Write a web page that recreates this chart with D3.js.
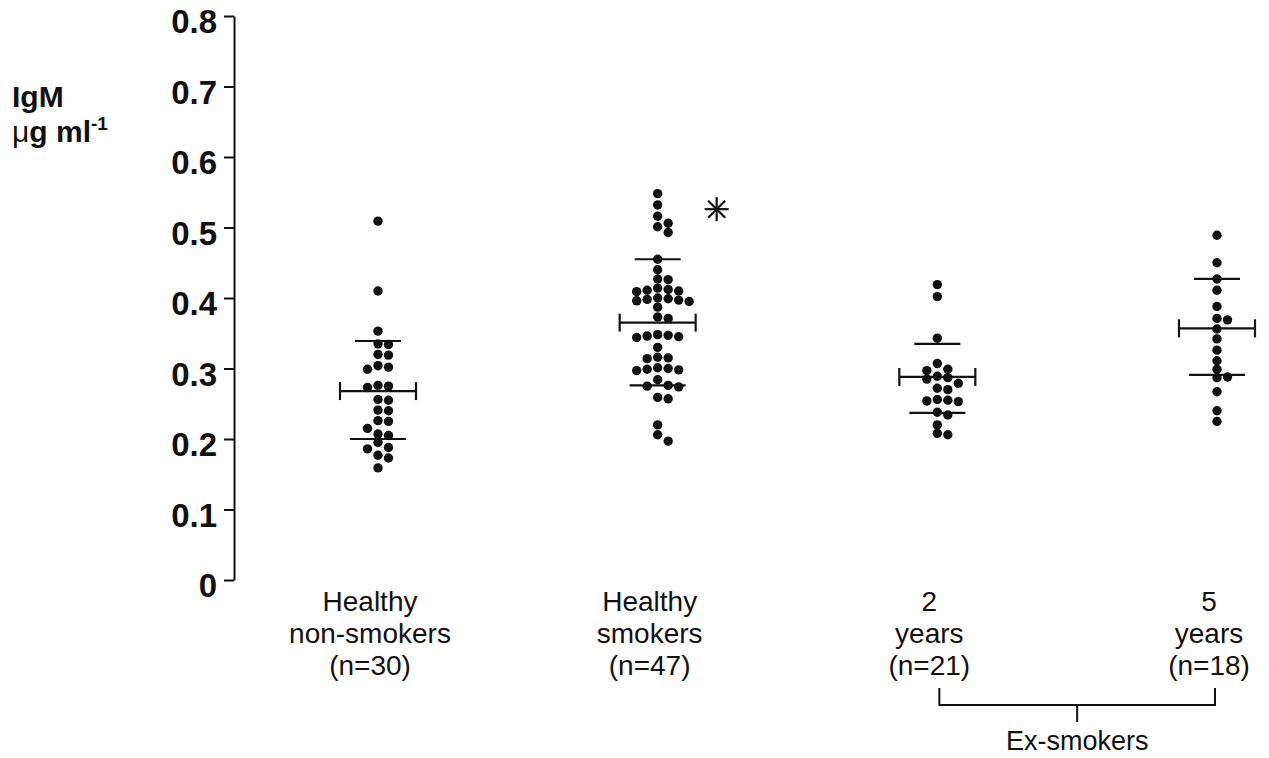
<!DOCTYPE html>
<html>
<head>
<meta charset="utf-8">
<script src="https://cdn.jsdelivr.net/npm/d3@7"></script>
<style>
  html, body { margin: 0; padding: 0; background: #fff; }
  svg { display: block; }
  text { fill: #111; }
</style>
</head>
<body>
<svg id="chart" width="1269" height="758"></svg>
<script>
// IgM concentration (µg/ml) per subject, grouped by smoking status
const groupKeys = ["nonSmokers", "smokers", "ex2", "ex5"];
const groupLabels = [
  ["Healthy", "non-smokers", "(n=30)"],
  ["Healthy", "smokers", "(n=47)"],
  ["2", "years", "(n=21)"],
  ["5", "years", "(n=18)"]
];

const nonSmokers = [0.509, 0.41, 0.353, 0.335, 0.334, 0.32, 0.319, 0.304, 0.302, 0.299,
  0.276, 0.275, 0.273, 0.256, 0.255, 0.241, 0.24, 0.226, 0.225, 0.215,
  0.207, 0.205, 0.195, 0.188, 0.186, 0.177, 0.173, 0.159];
const smokers = [0.548, 0.532, 0.516, 0.506, 0.501, 0.493, 0.455, 0.44, 0.427, 0.426,
  0.414, 0.412, 0.411, 0.41, 0.409, 0.4, 0.399, 0.398, 0.397, 0.396, 0.395,
  0.387, 0.373, 0.371, 0.348, 0.347, 0.346, 0.345, 0.344, 0.33,
  0.316, 0.315, 0.314, 0.301, 0.3, 0.299, 0.298, 0.297, 0.284,
  0.276, 0.275, 0.274, 0.259, 0.257, 0.22, 0.206, 0.197];
const exSmokers2y = [0.419, 0.402, 0.343, 0.307, 0.299, 0.297, 0.289, 0.287, 0.285, 0.279,
  0.272, 0.27, 0.256, 0.255, 0.254, 0.253, 0.238, 0.234, 0.22, 0.208, 0.206];
const exSmokers5y = [0.489, 0.45, 0.427, 0.411, 0.388, 0.371, 0.369, 0.356, 0.342, 0.326,
  0.311, 0.299, 0.288, 0.287, 0.267, 0.24, 0.225];

// mean and ±SD per group
const means   = [0.268, 0.365, 0.288, 0.357];
const upperSD = [0.339, 0.455, 0.335, 0.427];
const lowerSD = [0.200, 0.276, 0.237, 0.291];

const yTicks = [0, 0.1, 0.2, 0.3, 0.4, 0.5, 0.6, 0.7, 0.8];
const significance = { group: "smokers", value: 0.526, mark: "*" };

const groups = [nonSmokers, smokers, exSmokers2y, exSmokers5y];

const svg = d3.select("#chart");
const FONT = "'Liberation Sans', Arial, Helvetica, sans-serif";

const y = d3.scaleLinear().domain([0, 0.8]).range([580, 16]);
const x = d3.scalePoint().domain(groupKeys).range([378, 1217]);

// y axis
const axisX = 234;
const yAxis = svg.append("g")
  .attr("transform", `translate(${axisX},0)`)
  .call(d3.axisLeft(y)
    .tickValues(yTicks)
    .tickSize(10)
    .tickSizeOuter(0)
    .tickPadding(7)
    .tickFormat(d => d === 0 ? "0" : d3.format(".1f")(d)));
yAxis.select(".domain").attr("stroke", "#111").attr("stroke-width", 2);
yAxis.selectAll(".tick line").attr("stroke", "#111").attr("stroke-width", 2);
yAxis.selectAll(".tick text")
  .attr("font-family", FONT)
  .attr("font-weight", "bold")
  .attr("font-size", 33)
  .attr("dy", "0.5em")
  .attr("fill", "#111");

// y axis title
svg.append("text")
  .attr("x", 12).attr("y", 107)
  .attr("font-family", FONT).attr("font-weight", "bold").attr("font-size", 30)
  .text("IgM");
const unit = svg.append("text")
  .attr("x", 12).attr("y", 142)
  .attr("font-family", FONT).attr("font-weight", "bold").attr("font-size", 30);
unit.append("tspan").attr("font-weight", "normal").text("μ");
unit.append("tspan").text("g ml");
unit.append("tspan").attr("font-size", 19).attr("dy", -12).text("-1");

// beeswarm placement on a fixed column grid
const R = 4.7, STEP = 10.5, MIN_D = 8;
function swarm(values) {
  const placed = [];
  values.slice().sort((a, b) => b - a).forEach(v => {
    const py = y(v);
    for (let k = 0; k < 20; k++) {
      const off = k === 0 ? 0 : (k % 2 ? 1 : -1) * Math.ceil(k / 2) * STEP;
      const hit = placed.some(p => Math.hypot(p.dx - off, p.py - py) < MIN_D);
      if (!hit) { placed.push({ v, py, dx: off }); break; }
    }
  });
  return placed;
}

groupKeys.forEach((key, i) => {
  const cx = x(key);
  const g = svg.append("g");
  g.selectAll("circle")
    .data(swarm(groups[i]))
    .join("circle")
    .attr("cx", d => cx + d.dx)
    .attr("cy", d => y(d.v))
    .attr("r", R)
    .attr("fill", "#111");

  // mean with end caps, and ±SD bars
  const bars = [
    { v: means[i], half: 38, cap: true },
    { v: upperSD[i], half: 23, cap: false },
    { v: lowerSD[i], half: 28, cap: false }
  ];
  bars.forEach(b => {
    g.append("line")
      .attr("x1", cx - b.half).attr("x2", cx + b.half)
      .attr("y1", y(b.v)).attr("y2", y(b.v))
      .attr("stroke", "#111").attr("stroke-width", 2.2);
    if (b.cap) {
      [-1, 1].forEach(s => g.append("line")
        .attr("x1", cx + s * b.half).attr("x2", cx + s * b.half)
        .attr("y1", y(b.v) - 9).attr("y2", y(b.v) + 9)
        .attr("stroke", "#111").attr("stroke-width", 2.2));
    }
  });

  // category label
  const t = svg.append("text")
    .attr("text-anchor", "middle")
    .attr("font-family", FONT)
    .attr("font-size", 28);
  groupLabels[i].forEach((line, j) => {
    t.append("tspan").attr("x", cx - 8).attr("y", 611 + j * 32).text(line);
  });
});

// significance asterisk
const ax = x(significance.group) + 59, ay = y(significance.value);
const star = svg.append("g").attr("transform", `translate(${ax},${ay})`);
[0, 45, 90, 135].forEach(a => {
  const r = 12, rad = a * Math.PI / 180;
  star.append("line")
    .attr("x1", -r * Math.cos(rad)).attr("y1", -r * Math.sin(rad))
    .attr("x2", r * Math.cos(rad)).attr("y2", r * Math.sin(rad))
    .attr("stroke", "#111").attr("stroke-width", 2.2);
});

// bracket joining the ex-smoker groups
const bx1 = x("ex2") + 2, bx2 = x("ex5") - 2, bm = (bx1 + bx2) / 2;
svg.append("path")
  .attr("d", `M${bx1},688V705H${bx2}V688M${bm},705V722`)
  .attr("fill", "none").attr("stroke", "#111").attr("stroke-width", 2);
svg.append("text")
  .attr("x", bm).attr("y", 750)
  .attr("text-anchor", "middle")
  .attr("font-family", FONT).attr("font-size", 27)
  .text("Ex-smokers");
</script>
</body>
</html>
